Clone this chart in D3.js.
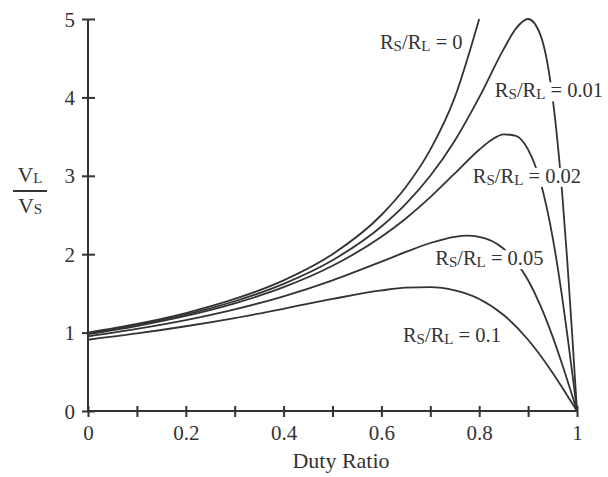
<!DOCTYPE html>
<html><head><meta charset="utf-8">
<script src="https://cdn.jsdelivr.net/npm/d3@7"></script>
<style>body{margin:0;background:#fff}svg{display:block}</style>
</head><body>
<svg id="c" width="608" height="477"></svg>
<script>
// Duty ratio sample points and curves
const dutyR0 = [0, 0.1, 0.2, 0.3, 0.4, 0.5, 0.6, 0.65, 0.7, 0.75, 0.8];
const vR0    = [1, 1.111, 1.25, 1.429, 1.667, 2, 2.5, 2.857, 3.333, 4, 5];

const dutyR001 = [0, 0.1, 0.2, 0.3, 0.4, 0.5, 0.6, 0.65, 0.7, 0.75, 0.8, 0.85, 0.875, 0.9, 0.925, 0.95, 0.97, 0.98, 0.99, 1];
const vR001    = [0.990, 1.098, 1.231, 1.4, 1.622, 1.923, 2.353, 2.642, 3.0, 3.448, 4.0, 4.615, 4.878, 5.0, 4.8, 4.0, 2.752, 1.923, 0.990, 0];

const dutyR002 = [0, 0.1, 0.2, 0.3, 0.4, 0.5, 0.6, 0.65, 0.7, 0.75, 0.8, 0.825, 0.85, 0.875, 0.9, 0.925, 0.95, 0.97, 0.98, 0.99, 1];
const vR002    = [0.980, 1.084, 1.212, 1.373, 1.579, 1.852, 2.222, 2.456, 2.727, 3.030, 3.333, 3.457, 3.529, 3.509, 3.333, 2.927, 2.222, 1.435, 0.980, 0.498, 0];

const dutyR005 = [0, 0.1, 0.2, 0.3, 0.4, 0.5, 0.6, 0.65, 0.7, 0.75, 0.775, 0.8, 0.85, 0.9, 0.925, 0.95, 0.97, 0.99, 1];
const vR005    = [0.952, 1.047, 1.159, 1.296, 1.463, 1.667, 1.905, 2.029, 2.143, 2.222, 2.236, 2.222, 2.069, 1.667, 1.348, 0.952, 0.589, 0.200, 0];

const dutyR01 = [0, 0.1, 0.2, 0.3, 0.4, 0.5, 0.6, 0.65, 0.7, 0.75, 0.8, 0.85, 0.9, 0.95, 0.97, 0.99, 1];
const vR01    = [0.909, 0.989, 1.081, 1.186, 1.304, 1.429, 1.538, 1.573, 1.579, 1.538, 1.429, 1.224, 0.909, 0.488, 0.297, 0.100, 0];

const xTickValues = [0, 0.1, 0.2, 0.3, 0.4, 0.5, 0.6, 0.7, 0.8, 0.9, 1];
const xTickLabels = ["0", "", "0.2", "", "0.4", "", "0.6", "", "0.8", "", "1"];
const yTickValues = [0, 1, 2, 3, 4, 5];
const yTickLabels = ["0", "1", "2", "3", "4", "5"];

const seriesNames = ["0", "0.01", "0.02", "0.05", "0.1"];
const seriesX = [dutyR0, dutyR001, dutyR002, dutyR005, dutyR01];
const seriesY = [vR0, vR001, vR002, vR005, vR01];
// label anchor (data coords, left/baseline)
const labelD = [0.597, 0.832, 0.787, 0.710, 0.644];
const labelV = [4.62, 4.0, 2.91, 1.86, 0.88];

const ink = "#333";
const font = "'Liberation Serif','Times New Roman',serif";
const svg = d3.select("#c");
const x = d3.scaleLinear().domain([0, 1]).range([88, 577]);
const y = d3.scaleLinear().domain([0, 5]).range([411, 19]);

const line = d3.line().x(d => x(d[0])).y(d => y(d[1])).curve(d3.curveMonotoneX);
seriesX.forEach((xs, i) => {
  const pts = xs.map((d, j) => [d, seriesY[i][j]]);
  svg.append("path").attr("d", line(pts)).attr("fill", "none")
    .attr("stroke", ink).attr("stroke-width", 1.8);
});

// axes
const xAxis = d3.axisBottom(x).tickValues(xTickValues).tickSize(0).tickPadding(0)
  .tickFormat((d, i) => xTickLabels[i]);
const gx = svg.append("g").attr("transform", "translate(0,411)").call(xAxis);
gx.select(".domain").attr("d", `M${x(0)},0H${x(1)}`).attr("stroke", ink).attr("stroke-width", 2);
gx.selectAll(".tick").append("line").attr("y1", -5).attr("y2", 6).attr("stroke", ink).attr("stroke-width", 2);
gx.selectAll(".tick text").attr("font-family", font).attr("font-size", 21).attr("fill", ink)
  .attr("y", 29).attr("dy", null);

const yAxis = d3.axisLeft(y).tickValues(yTickValues).tickSize(0).tickPadding(13)
  .tickFormat((d, i) => yTickLabels[i]);
const gy = svg.append("g").attr("transform", "translate(88,0)").call(yAxis);
gy.select(".domain").attr("d", `M0,${y(0)}V${y(5)}`).attr("stroke", ink).attr("stroke-width", 2);
gy.selectAll(".tick").append("line").attr("x1", -6).attr("x2", 7).attr("stroke", ink).attr("stroke-width", 2);
gy.selectAll(".tick text").attr("font-family", font).attr("font-size", 21).attr("fill", ink)
  .attr("dy", null).attr("y", 7);

// axis titles
svg.append("text").attr("x", 341).attr("y", 468).attr("text-anchor", "middle")
  .attr("font-family", font).attr("font-size", 22).attr("fill", ink).text("Duty Ratio");

function vsub(t, sub) {
  t.append("tspan").text("V");
  t.append("tspan").attr("font-size", 15).attr("dy", 1).text(sub);
}
const t1 = svg.append("text").attr("x", 30).attr("y", 182).attr("text-anchor", "middle")
  .attr("font-family", font).attr("font-size", 22).attr("fill", ink);
vsub(t1, "L");
svg.append("line").attr("x1", 13).attr("x2", 47).attr("y1", 191).attr("y2", 191)
  .attr("stroke", ink).attr("stroke-width", 2);
const t2 = svg.append("text").attr("x", 30).attr("y", 213).attr("text-anchor", "middle")
  .attr("font-family", font).attr("font-size", 22).attr("fill", ink);
vsub(t2, "S");

// curve labels with white background
seriesNames.forEach((n, i) => {
  const g = svg.append("g");
  const t = g.append("text").attr("x", x(labelD[i])).attr("y", y(labelV[i]))
    .attr("font-family", font).attr("font-size", 20.5).attr("fill", ink);
  t.append("tspan").text("R");
  t.append("tspan").attr("font-size", 15).attr("dy", 2).text("S");
  t.append("tspan").attr("dy", -2).text("/R");
  t.append("tspan").attr("font-size", 15).attr("dy", 2).text("L");
  t.append("tspan").attr("dy", -2).text(" = " + n);
  const bb = t.node().getBBox();
  g.insert("rect", "text").attr("x", bb.x - 2).attr("y", bb.y + 3)
    .attr("width", bb.width + 4).attr("height", bb.height - 4).attr("fill", "#fff");
});
</script>
</body></html>
